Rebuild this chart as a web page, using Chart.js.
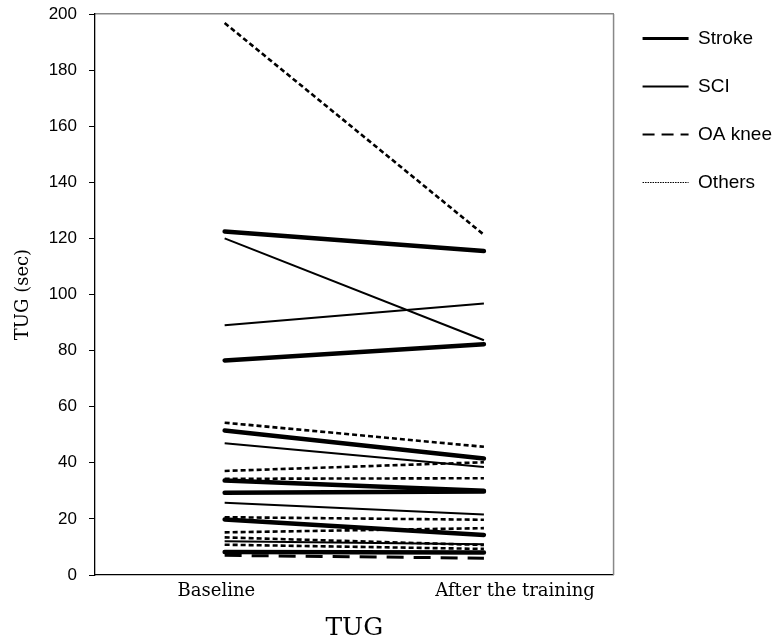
<!DOCTYPE html>
<html>
<head>
<meta charset="utf-8">
<script src="https://cdn.jsdelivr.net/npm/chart.js@4"></script>
<style>
html,body{margin:0;padding:0;background:#fff;}
#wrap{width:782px;height:643px;}
</style>
</head>
<body>
<div id="wrap"><canvas id="c" width="782" height="643"></canvas></div>
<script>
// ---- data ----
const timepoints = ['Baseline', 'After the training'];
const groupNames = ['Stroke', 'SCI', 'OA knee', 'Others'];

const strokeBaseline = [122.5, 76.5, 51.5, 33.7, 29.3, 19.8, 8.2];
const strokeAfter    = [115.5, 82.3, 41.5, 30.0, 29.8, 14.3, 8.0];

const sciBaseline = [120.0, 89.0, 47.0, 25.8, 12.0];
const sciAfter    = [83.7, 96.8, 38.5, 21.6, 11.0];

const oaBaseline = [7.0];
const oaAfter    = [6.0];

const othersBaseline = [196.8, 54.3, 37.1, 34.3, 20.6, 15.2, 13.4, 10.8];
const othersAfter    = [121.3, 45.7, 40.2, 34.5, 19.7, 16.7, 10.7, 9.3];

const yTicks = [0, 20, 40, 60, 80, 100, 120, 140, 160, 180, 200];

// ---- styles ----
const groupStyles = {
  'Stroke':  {width: 4.5, dash: [],       cap: 'round', legendWidth: 3,   legendDash: []},
  'SCI':     {width: 2,   dash: [],       cap: 'butt',  legendWidth: 2,   legendDash: []},
  'OA knee': {width: 3,   dash: [17, 10], cap: 'butt',  legendWidth: 2,   legendDash: [12, 7]},
  'Others':  {width: 2.6, dash: [5, 3],   cap: 'butt',  legendWidth: 1.2, legendDash: [1.5, 1]}
};

const groupData = {
  'Stroke':  [strokeBaseline, strokeAfter],
  'SCI':     [sciBaseline, sciAfter],
  'OA knee': [oaBaseline, oaAfter],
  'Others':  [othersBaseline, othersAfter]
};

const datasets = [];
['Others', 'OA knee', 'SCI', 'Stroke'].forEach(g => {
  const [b, a] = groupData[g];
  const st = groupStyles[g];
  b.forEach((v, i) => {
    datasets.push({
      label: g,
      data: [{x: 0, y: v}, {x: 1, y: a[i]}],
      borderColor: '#000',
      backgroundColor: '#000',
      borderWidth: st.width,
      borderDash: st.dash,
      borderCapStyle: st.cap,
      pointRadius: 0,
      pointHoverRadius: 0,
      fill: false,
      tension: 0
    });
  });
});

// right side of the plot frame
const rightFrame = {
  id: 'rightFrame',
  beforeDatasetsDraw(chart) {
    const {ctx, chartArea: a} = chart;
    ctx.save();
    ctx.strokeStyle = '#888';
    ctx.lineWidth = 1.5;
    ctx.beginPath();
    ctx.moveTo(a.right, a.top);
    ctx.lineTo(a.right, a.bottom);
    ctx.stroke();
    ctx.restore();
  }
};

new Chart(document.getElementById('c'), {
  type: 'line',
  data: {datasets},
  plugins: [rightFrame],
  options: {
    responsive: false,
    animation: false,
    events: [],
    layout: {padding: 0, autoPadding: false},
    plugins: {
      tooltip: {enabled: false},
      legend: {
        position: 'right',
        align: 'start',
        labels: {
          usePointStyle: true,
          pointStyleWidth: 46,
          padding: 29,
          color: '#000',
          font: {family: 'Liberation Sans, Arial, sans-serif', size: 19},
          generateLabels: () => groupNames.map(g => ({
            text: g,
            fillStyle: '#000',
            strokeStyle: '#000',
            lineWidth: groupStyles[g].legendWidth,
            lineDash: groupStyles[g].legendDash,
            lineCap: 'butt',
            pointStyle: 'line',
            hidden: false,
            fontColor: '#000'
          }))
        }
      }
    },
    scales: {
      x: {
        type: 'linear',
        min: -0.5,
        max: 1.5,
        afterBuildTicks: s => { s.ticks = [{value: -0.032}, {value: 1.12}]; },
        ticks: {
          autoSkip: false,
          maxRotation: 0,
          padding: 6,
          color: '#000',
          font: {family: 'DejaVu Serif', size: 18},
          callback: (v, i) => timepoints[i]
        },
        grid: {display: true, drawOnChartArea: false, drawTicks: false, color: 'rgba(0,0,0,0)'},
        border: {display: true, color: '#000', width: 1.3},
        title: {display: true, text: 'TUG', color: '#000', font: {family: 'DejaVu Serif', size: 25}, padding: {top: 0, bottom: 0}},
        afterFit: s => { s.height = 68; s.paddingLeft = 0; s.paddingRight = 0; }
      },
      x2: {
        type: 'linear',
        position: 'top',
        min: 0, max: 1,
        ticks: {display: false},
        grid: {display: true, drawOnChartArea: false, drawTicks: false, color: 'rgba(0,0,0,0)'},
        border: {display: true, color: '#888', width: 1.5},
        afterFit: s => { s.height = 14; s.paddingLeft = 0; s.paddingRight = 0; }
      },
      y: {
        type: 'linear',
        min: 0,
        max: 200,
        afterBuildTicks: s => { s.ticks = yTicks.map(v => ({value: v})); },
        ticks: {
          padding: 12,
          color: '#000',
          font: {family: 'Liberation Sans, Arial, sans-serif', size: 17}
        },
        grid: {display: true, drawOnChartArea: false, drawTicks: true, tickLength: 6, color: '#000', lineWidth: 1},
        border: {display: true, color: '#000', width: 1.3},
        title: {display: true, text: 'TUG (sec)', color: '#000', font: {family: 'DejaVu Serif', size: 18}, padding: {top: 13, bottom: 0}},
        afterFit: s => { s.width = 95; s.paddingTop = 0; s.paddingBottom = 0; }
      }
    }
  }
});
</script>
</body>
</html>
